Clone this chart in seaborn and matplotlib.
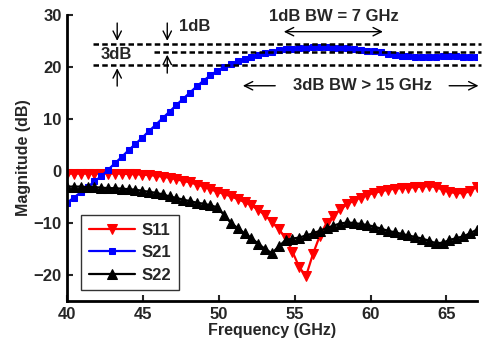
import pandas as pd
import matplotlib
matplotlib.use("Agg")
import matplotlib.pyplot as plt
import seaborn as sns

# frequency grid (GHz)
freq = [40.0, 40.45, 40.9, 41.35, 41.8, 42.25, 42.7, 43.15, 43.6, 44.05,
        44.5, 44.95, 45.4, 45.85, 46.3, 46.75, 47.2, 47.65, 48.1, 48.55,
        49.0, 49.45, 49.9, 50.35, 50.8, 51.25, 51.7, 52.15, 52.6, 53.05,
        53.5, 53.95, 54.4, 54.85, 55.3, 55.75, 56.2, 56.65, 57.1, 57.55,
        58.0, 58.45, 58.9, 59.35, 59.8, 60.25, 60.7, 61.15, 61.6, 62.05,
        62.5, 62.95, 63.4, 63.85, 64.3, 64.75, 65.2, 65.65, 66.1, 66.55, 67.0]

s11 = [-0.5, -0.5, -0.5, -0.5, -0.5, -0.5, -0.5, -0.5, -0.5, -0.6,
       -0.6, -0.7, -0.8, -0.9, -1.1, -1.3, -1.6, -1.9, -2.2, -2.6,
       -3.0, -3.5, -4.0, -4.4, -4.9, -5.4, -6.0, -6.6, -7.5, -8.5,
       -9.8, -11.2, -12.8, -15.5, -18.5, -20.2, -16.0, -12.5, -10.0, -8.6,
       -7.4, -6.4, -5.7, -5.1, -4.6, -4.2, -3.9, -3.6, -3.4, -3.3,
       -3.2, -3.1, -3.0, -2.9, -3.1, -3.6, -4.1, -4.2, -4.3, -3.9, -3.0]

s21 = [-6.1, -5.1, -4.1, -3.1, -2.0, -1.0, 0.24, 1.5, 2.7, 4.0,
       5.2, 6.4, 7.7, 8.9, 10.2, 11.4, 12.7, 13.9, 15.1, 16.3,
       17.4, 18.4, 19.3, 20.0, 20.6, 21.1, 21.6, 22.0, 22.4, 22.7,
       22.95, 23.2, 23.4, 23.55, 23.65, 23.75, 23.8, 23.8, 23.8, 23.75,
       23.7, 23.6, 23.45, 23.3, 23.15, 23.0, 22.8, 22.6, 22.4, 22.2,
       22.1, 22.0, 22.0, 22.0, 22.0, 22.05, 22.1, 22.1, 22.0, 21.95, 21.9]

s22 = [-3.0, -3.0, -3.0, -3.1, -3.1, -3.2, -3.3, -3.3, -3.4, -3.5,
       -3.6, -3.8, -4.0, -4.2, -4.5, -4.9, -5.2, -5.5, -5.8, -6.1,
       -6.3, -6.6, -7.0, -8.5, -10.0, -11.0, -12.0, -12.9, -14.0, -15.0,
       -15.8, -14.5, -13.3, -13.0, -12.8, -12.4, -12.0, -11.5, -11.0, -10.5,
       -10.1, -9.9, -10.0, -10.2, -10.4, -10.7, -11.1, -11.5, -11.8, -12.1,
       -12.4, -12.7, -13.0, -13.4, -13.9, -13.8, -13.3, -12.9, -12.6, -12.0, -11.3]

# reference levels for the bandwidth markers (dB)
lvl_top = 24.5
lvl_1db = 22.9
lvl_3db = 20.3

df = pd.DataFrame({"Frequency": freq, "S11": s11, "S21": s21, "S22": s22})

sns.set_style("ticks")
plt.rcParams['font.family'] = ['Liberation Sans', 'DejaVu Sans']
plt.rcParams['font.weight'] = 'bold'
plt.rcParams['axes.labelweight'] = 'bold'

fig = plt.figure(figsize=(4.83, 3.42), dpi=100)
ax = fig.add_axes([0.139, 0.120, 0.848, 0.836])

sns.lineplot(data=df, x="Frequency", y="S11", ax=ax, color="red", marker="v",
             markersize=7, markeredgecolor="red", linewidth=1.6, label="S11")
sns.lineplot(data=df, x="Frequency", y="S21", ax=ax, color="blue", marker="s",
             markersize=5, markeredgecolor="blue", linewidth=1.6, label="S21")
sns.lineplot(data=df, x="Frequency", y="S22", ax=ax, color="black", marker="^",
             markersize=7, markeredgecolor="black", linewidth=1.6, label="S22")

# dashed reference lines
dash = dict(color='black', lw=1.8, linestyle=(0, (2.2, 1.3)), clip_on=False)
ax.plot([41.7, 67.3], [lvl_top, lvl_top], **dash)
ax.plot([45.75, 67.3], [lvl_1db, lvl_1db], **dash)
ax.plot([41.7, 67.3], [lvl_3db, lvl_3db], **dash)

arr = dict(arrowstyle="->", color="black", lw=1.0, mutation_scale=15)
# 3dB markers
ax.annotate("", xy=(43.3, lvl_top), xytext=(43.3, 29.0), arrowprops=arr)
ax.annotate("", xy=(43.3, lvl_3db), xytext=(43.3, 15.8), arrowprops=arr)
ax.text(43.25, 22.4, "3dB", fontsize=12, fontweight='bold', ha='center', va='center')
# 1dB markers
ax.annotate("", xy=(46.6, lvl_top), xytext=(46.6, 29.0), arrowprops=arr)
ax.annotate("", xy=(46.6, lvl_1db), xytext=(46.6, 18.3), arrowprops=arr)
ax.text(47.4, 27.8, "1dB", fontsize=12, fontweight='bold', ha='left', va='center')
# 1dB bandwidth
ax.text(57.6, 29.7, "1dB BW = 7 GHz", fontsize=12, fontweight='bold', ha='center', va='center')
ax.annotate("", xy=(54.1, 26.8), xytext=(61.0, 26.8),
            arrowprops=dict(arrowstyle="<->", color="black", lw=1.0, mutation_scale=15))
# 3dB bandwidth
ax.text(59.5, 16.4, "3dB BW > 15 GHz", fontsize=12, fontweight='bold', ha='center', va='center')
ax.annotate("", xy=(51.4, 16.4), xytext=(53.9, 16.4), arrowprops=arr)
ax.annotate("", xy=(67.3, 16.4), xytext=(65.0, 16.4), arrowprops=arr, annotation_clip=False)

ax.set_xlim(40, 67)
ax.set_ylim(-25, 30)
ax.set_xticks([40, 45, 50, 55, 60, 65])
ax.set_yticks([-20, -10, 0, 10, 20, 30])
ax.set_xlabel("Frequency (GHz)", fontsize=11.5, fontweight='bold', labelpad=1)
ax.set_ylabel("Magnitude (dB)", fontsize=11.5, fontweight='bold', labelpad=2)
ax.tick_params(direction='in', length=4, width=1.5, labelsize=12, pad=4)
for lab in ax.get_xticklabels() + ax.get_yticklabels():
    lab.set_fontweight('bold')

sns.despine(ax=ax)
for sp in ['left', 'bottom']:
    ax.spines[sp].set_linewidth(2)
    ax.spines[sp].set_color('black')

leg = ax.legend(loc='lower left', bbox_to_anchor=(0.034, 0.038), borderaxespad=0,
                fontsize=12, frameon=True, fancybox=False, edgecolor='black',
                handlelength=2.8, borderpad=0.45, labelspacing=0.45, handletextpad=0.4)
leg.get_frame().set_linewidth(1.0)
for t in leg.get_texts():
    t.set_fontweight('bold')

fig.savefig("out.png", dpi=100)
